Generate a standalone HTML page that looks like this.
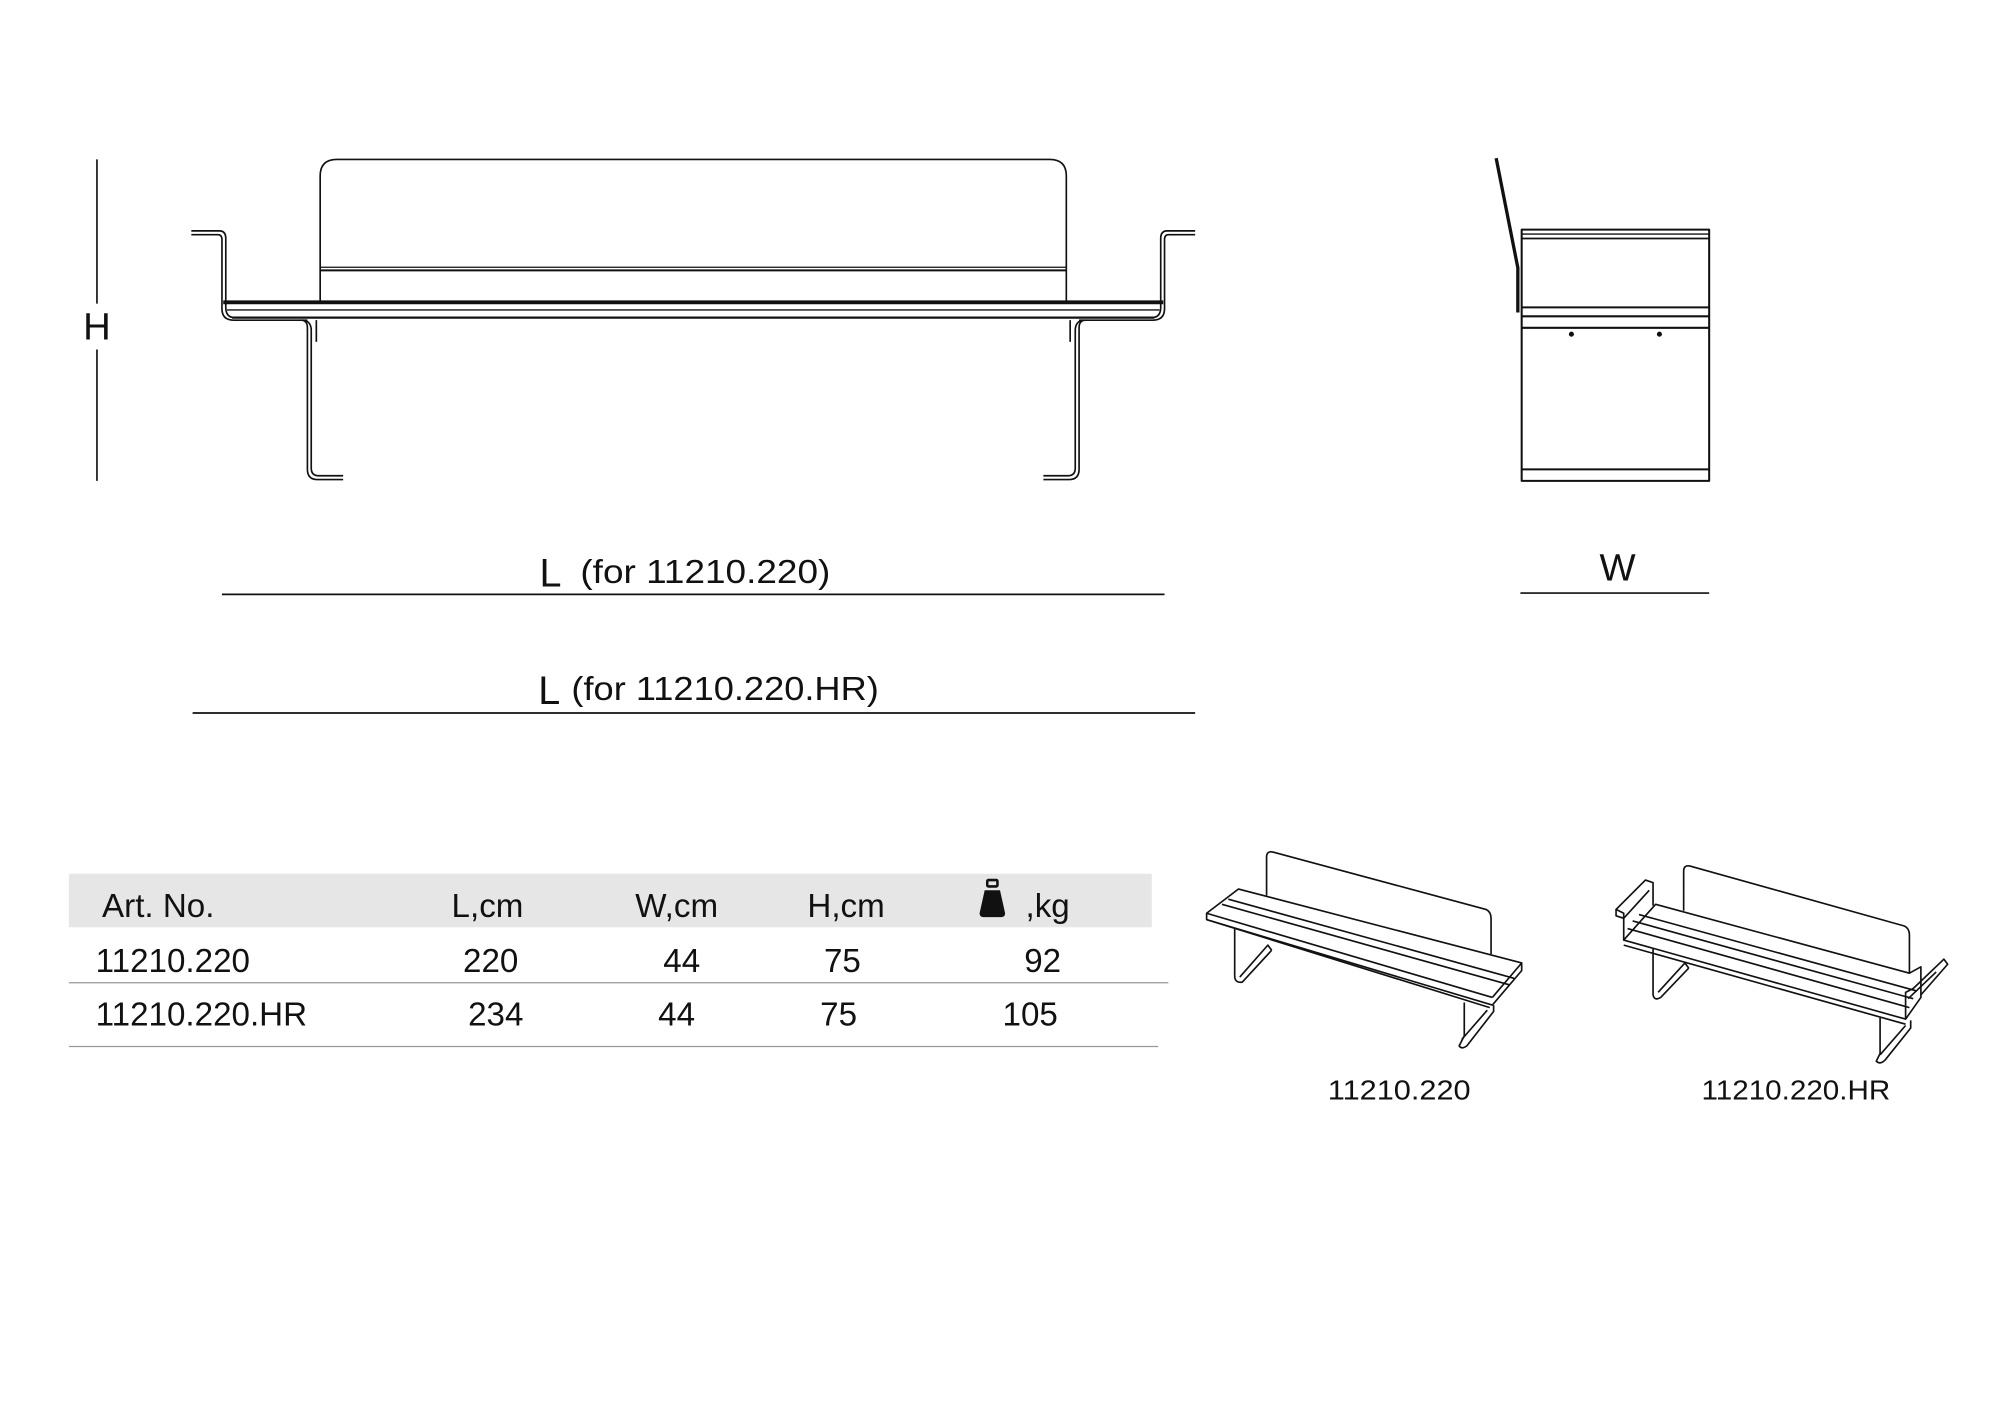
<!DOCTYPE html>
<html><head><meta charset="utf-8"><style>
html,body{margin:0;padding:0;background:#fff;}
svg{display:block;}
text{font-family:"Liberation Sans",sans-serif;fill:#111;}
</style></head><body>
<svg width="2000" height="1414" viewBox="0 0 1568 1108.6" xmlns="http://www.w3.org/2000/svg">
<g fill="none" stroke="#111" stroke-width="1.3" stroke-linejoin="round">
<!-- H dimension -->
<line x1="76" y1="125" x2="76" y2="238"/>
<line x1="76" y1="274" x2="76" y2="377"/>
<!-- backrest -->
<path d="M251,237 V138 Q251,125 264,125 H823 Q836,125 836,138 V237"/>
<line x1="251" y1="209.5" x2="836" y2="209.5" stroke-width="1"/>
<line x1="251" y1="212" x2="836" y2="212" stroke-width="1.6"/>
<!-- seat -->
<line x1="175" y1="237" x2="912" y2="237" stroke-width="3"/>
<line x1="178" y1="243" x2="909" y2="243" stroke-width="1"/>
<line x1="182" y1="249" x2="905" y2="249" stroke-width="1.8"/>
<!-- left arm -->
<path d="M150,181 H172 Q177,181 177,187 V241 Q177,249 184,249"/>
<path d="M150,184 H171 Q174,184 174,188 V242 Q174,251 183,251 H241"/>
<!-- right arm -->
<path d="M937,181 H915 Q910,181 910,187 V241 Q910,249 903,249"/>
<path d="M937,184 H916 Q913,184 913,188 V242 Q913,251 904,251 H846"/>
<!-- left leg -->
<path d="M236,251 Q241,251 241,257 V368 Q241,376 249,376 H269"/>
<path d="M239,251 Q244,253 244,259 V367 Q244,373 250,373 H269"/>
<line x1="248" y1="251" x2="248" y2="268"/>
<!-- right leg -->
<path d="M851,251 Q846,251 846,257 V368 Q846,376 838,376 H818"/>
<path d="M848,251 Q843,253 843,259 V367 Q843,373 837,373 H818"/>
<line x1="839" y1="251" x2="839" y2="268"/>
<!-- side view -->
<rect x="1193" y="180" width="147" height="197" stroke-width="1.6"/>
<line x1="1193" y1="183.5" x2="1340" y2="183.5" stroke-width="1"/>
<line x1="1193" y1="187" x2="1340" y2="187" stroke-width="1.4"/>
<line x1="1193" y1="241" x2="1340" y2="241" stroke-width="1.6"/>
<line x1="1193" y1="248" x2="1340" y2="248" stroke-width="1.6"/>
<line x1="1193" y1="257" x2="1340" y2="257" stroke-width="1.6"/>
<line x1="1193" y1="368" x2="1340" y2="368" stroke-width="1.6"/>
<path d="M1173,124 L1190,210 V245" stroke-width="2.6"/>
<!-- dimension lines -->
<line x1="174" y1="466" x2="913" y2="466"/>
<line x1="151" y1="559" x2="937" y2="559"/>
<line x1="1192" y1="465" x2="1340" y2="465"/>
<!-- table lines -->
<line x1="54" y1="770.5" x2="916" y2="770.5" stroke="#999" stroke-width="1"/>
<line x1="54" y1="820.5" x2="908" y2="820.5" stroke="#999" stroke-width="1"/>
</g>
<circle cx="1232" cy="262" r="2" fill="#111"/>
<circle cx="1301" cy="262" r="2" fill="#111"/>
<!-- table header -->
<rect x="54" y="685" width="849" height="42" fill="#e6e6e6"/>
<g font-size="26">
<text x="76" y="266" font-size="30" text-anchor="middle">H</text>
<text x="423" y="460" font-size="31">L</text>
<text x="455" y="457" textLength="196" lengthAdjust="spacingAndGlyphs">(for 11210.220)</text>
<text x="422" y="552" font-size="31">L</text>
<text x="448" y="549" textLength="241" lengthAdjust="spacingAndGlyphs">(for 11210.220.HR)</text>
<text x="1254" y="455" font-size="30">W</text>
<text x="80" y="719">Art. No.</text>
<text x="354" y="719">L,cm</text>
<text x="498" y="719">W,cm</text>
<text x="633" y="719">H,cm</text>
<text x="804" y="719">,kg</text>
<text x="75" y="762">11210.220</text>
<text x="363" y="762">220</text>
<text x="520" y="762">44</text>
<text x="646" y="762">75</text>
<text x="803" y="762">92</text>
<text x="75" y="804">11210.220.HR</text>
<text x="367" y="804">234</text>
<text x="516" y="804">44</text>
<text x="643" y="804">75</text>
<text x="786" y="804">105</text>
<text x="1097" y="862" font-size="22" text-anchor="middle" textLength="112" lengthAdjust="spacingAndGlyphs">11210.220</text>
<text x="1408" y="862" font-size="22" text-anchor="middle" textLength="148" lengthAdjust="spacingAndGlyphs">11210.220.HR</text>
</g>
<!-- weight icon -->
<path d="M772,698 H784 L788,716 Q788,719 785,719 H771 Q768,719 768,716 Z" fill="#111"/>
<rect x="774" y="690" width="8" height="5" rx="1" fill="none" stroke="#111" stroke-width="2"/>
<!-- bench 1 iso -->
<g fill="none" stroke="#111" stroke-width="1.3" stroke-linejoin="round">
<path d="M993,702 V672 Q993,667 998,668 L1165,713 Q1169,715 1169,720 V748"/>
<path d="M971,697 L1193,755 L1193,761 L1170,788 L946,721 L946,716 Z" fill="#fff"/>
<line x1="946" y1="716" x2="1170" y2="782"/>
<line x1="1170" y1="782" x2="1193" y2="755"/>
<line x1="958" y1="709" x2="1183" y2="772"/>
<line x1="963" y1="705" x2="1187" y2="767"/>
<line x1="946" y1="721" x2="1168" y2="790"/>
<path d="M968,728 V765 Q968,771 974,770 L997,745"/>
<path d="M972,766 L994,741 L997,745"/>
<path d="M1148,786 V812 L1144,820 Q1146,823 1150,820 L1171,793 V788"/>
<line x1="1146" y1="815" x2="1166" y2="792"/>
</g>
<!-- bench 2 iso -->
<g fill="none" stroke="#111" stroke-width="1.3" stroke-linejoin="round">
<path d="M1320,714 V683 Q1320,678 1325,679 L1493,726 Q1497,728 1497,733 V764"/>
<path d="M1298,709 L1497,763 L1506,758 L1506,782 L1494,799 L1273,737 Z" fill="#fff"/>
<path d="M1273,737 V716 L1267,713 L1290,690 L1296,692 L1296,710"/>
<path d="M1267,713 V718 L1273,720 L1293,698"/>
<line x1="1280" y1="722" x2="1500" y2="783"/>
<line x1="1276" y1="728" x2="1497" y2="790"/>
<line x1="1285" y1="717" x2="1503" y2="777"/>
<path d="M1494,799 V778 L1500,775 L1524,752 L1527,756 L1506,780"/>
<path d="M1496,783 L1518,762"/>
<line x1="1273" y1="741" x2="1494" y2="803"/>
<path d="M1296,743 V780 Q1297,785 1302,782 L1324,759"/>
<path d="M1300,778 L1321,755 L1324,759"/>
<path d="M1474,798 V826 L1471,832 Q1474,835 1478,831 L1498,806 V800"/>
<line x1="1474" y1="827" x2="1494" y2="804"/>
</g>
</svg>
</body></html>
